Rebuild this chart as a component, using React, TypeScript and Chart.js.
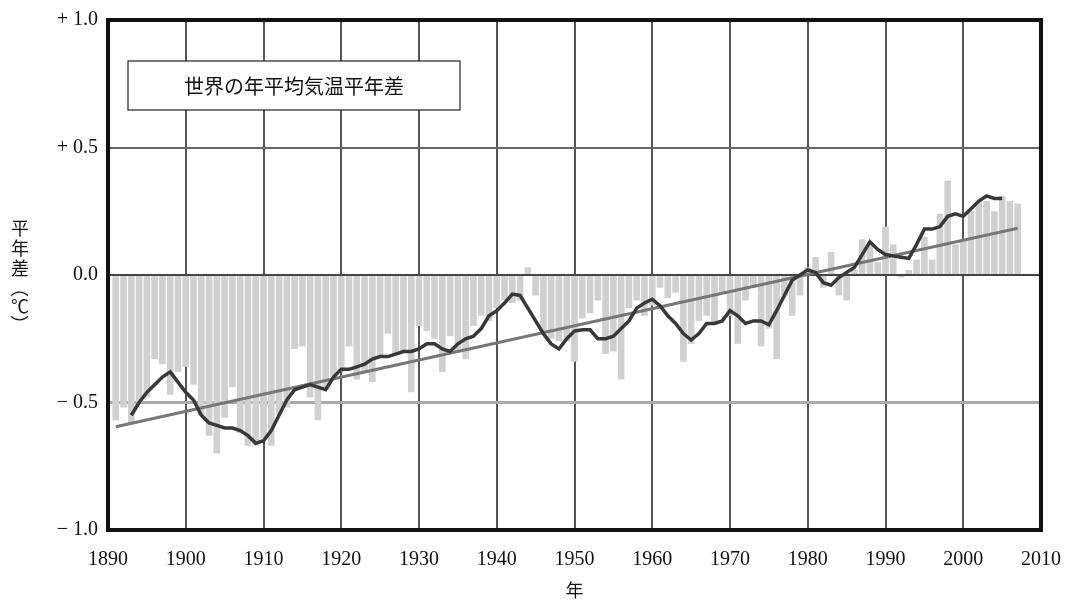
import React, { useEffect, useRef } from "react";
import { Chart, registerables } from "chart.js";

Chart.register(...registerables);

// ---- Data ----
const barYears = [
  1891, 1892, 1893, 1894, 1895, 1896, 1897, 1898, 1899,
  1900, 1901, 1902, 1903, 1904, 1905, 1906, 1907, 1908, 1909,
  1910, 1911, 1912, 1913, 1914, 1915, 1916, 1917, 1918, 1919,
  1920, 1921, 1922, 1923, 1924, 1925, 1926, 1927, 1928, 1929,
  1930, 1931, 1932, 1933, 1934, 1935, 1936, 1937, 1938, 1939,
  1940, 1941, 1942, 1943, 1944, 1945, 1946, 1947, 1948, 1949,
  1950, 1951, 1952, 1953, 1954, 1955, 1956, 1957, 1958, 1959,
  1960, 1961, 1962, 1963, 1964, 1965, 1966, 1967, 1968, 1969,
  1970, 1971, 1972, 1973, 1974, 1975, 1976, 1977, 1978, 1979,
  1980, 1981, 1982, 1983, 1984, 1985, 1986, 1987, 1988, 1989,
  1990, 1991, 1992, 1993, 1994, 1995, 1996, 1997, 1998, 1999,
  2000, 2001, 2002, 2003, 2004, 2005, 2006, 2007,
];

const annualAnomaly = [
  -0.57, -0.52, -0.58, -0.50, -0.48, -0.33, -0.35, -0.47, -0.38,
  -0.36, -0.43, -0.55, -0.63, -0.70, -0.56, -0.44, -0.62, -0.67, -0.67,
  -0.64, -0.67, -0.55, -0.52, -0.29, -0.28, -0.48, -0.57, -0.45, -0.40,
  -0.38, -0.28, -0.41, -0.38, -0.42, -0.32, -0.23, -0.31, -0.30, -0.46,
  -0.20, -0.22, -0.25, -0.38, -0.24, -0.30, -0.33, -0.20, -0.16, -0.18,
  -0.13, -0.10, -0.11, -0.10, 0.03, -0.08, -0.22, -0.25, -0.26, -0.26,
  -0.34, -0.17, -0.15, -0.10, -0.31, -0.30, -0.41, -0.13, -0.10, -0.16,
  -0.12, -0.05, -0.09, -0.07, -0.34, -0.27, -0.18, -0.16, -0.19, -0.07,
  -0.16, -0.27, -0.10, -0.05, -0.28, -0.21, -0.33, -0.08, -0.16, -0.08,
  0.03, 0.07, -0.05, 0.09, -0.08, -0.10, 0.02, 0.14, 0.13, 0.05,
  0.19, 0.12, -0.01, 0.02, 0.06, 0.15, 0.06, 0.24, 0.37, 0.12,
  0.14, 0.25, 0.29, 0.29, 0.25, 0.31, 0.29, 0.28,
];

const meanYears = [
  1893, 1894, 1895, 1896, 1897, 1898, 1899,
  1900, 1901, 1902, 1903, 1904, 1905, 1906, 1907, 1908, 1909,
  1910, 1911, 1912, 1913, 1914, 1915, 1916, 1917, 1918, 1919,
  1920, 1921, 1922, 1923, 1924, 1925, 1926, 1927, 1928, 1929,
  1930, 1931, 1932, 1933, 1934, 1935, 1936, 1937, 1938, 1939,
  1940, 1941, 1942, 1943, 1944, 1945, 1946, 1947, 1948, 1949,
  1950, 1951, 1952, 1953, 1954, 1955, 1956, 1957, 1958, 1959,
  1960, 1961, 1962, 1963, 1964, 1965, 1966, 1967, 1968, 1969,
  1970, 1971, 1972, 1973, 1974, 1975, 1976, 1977, 1978, 1979,
  1980, 1981, 1982, 1983, 1984, 1985, 1986, 1987, 1988, 1989,
  1990, 1991, 1992, 1993, 1994, 1995, 1996, 1997, 1998, 1999,
  2000, 2001, 2002, 2003, 2004, 2005,
];

const runningMean = [
  -0.55, -0.50, -0.46, -0.43, -0.40, -0.38, -0.42,
  -0.46, -0.49, -0.55, -0.58, -0.59, -0.60, -0.60, -0.61, -0.63, -0.66,
  -0.65, -0.61, -0.55, -0.49, -0.45, -0.44, -0.43, -0.44, -0.45, -0.40,
  -0.37, -0.37, -0.36, -0.35, -0.33, -0.32, -0.32, -0.31, -0.30, -0.30,
  -0.29, -0.27, -0.27, -0.29, -0.30, -0.27, -0.25, -0.24, -0.21, -0.16,
  -0.14, -0.11, -0.075, -0.08, -0.13, -0.18, -0.23, -0.27, -0.29, -0.25,
  -0.22, -0.215, -0.215, -0.25, -0.25, -0.24, -0.21, -0.18, -0.13, -0.11,
  -0.095, -0.12, -0.16, -0.19, -0.23, -0.255, -0.23, -0.19, -0.19, -0.18,
  -0.14, -0.16, -0.19, -0.18, -0.18, -0.195, -0.14, -0.08, -0.02, 0.0,
  0.02, 0.01, -0.03, -0.04, -0.01, 0.01, 0.03, 0.08, 0.13, 0.10,
  0.08, 0.075, 0.07, 0.065, 0.12, 0.18, 0.18, 0.19, 0.23, 0.24,
  0.23, 0.26, 0.29, 0.31, 0.30, 0.30,
];

const trendYears = [1891, 2007];
const trendValues = [-0.595, 0.183];

const yTickValues = [-1, -0.5, 0, 0.5, 1];
const yTickLabels = ["\u2212 1.0", "\u2212 0.5", "0.0", "+ 0.5", "+ 1.0"];

const legendText = "世界の年平均気温平年差";
const yTitleChars = ["平", "年", "差"];
const yTitleUnit = ["（", "℃", "）"];
const xTitle = "年";

const SERIF = "'Liberation Serif', 'DejaVu Serif', serif";
const JP = "'Noto Sans CJK JP', sans-serif";

const decorPlugin = {
  id: "decor",
  afterDatasetDraw(chart: any, args: any) {
    if (args.meta.type !== "bar") return;
    const { ctx, chartArea, scales } = chart;
    const y0 = scales.y.getPixelForValue(0);
    ctx.save();
    ctx.strokeStyle = "#444";
    ctx.lineWidth = 2;
    ctx.beginPath();
    ctx.moveTo(chartArea.left, y0);
    ctx.lineTo(chartArea.right, y0);
    ctx.stroke();
    ctx.restore();
  },
  afterDraw(chart: any) {
    const { ctx, chartArea } = chart;
    ctx.save();
    // frame
    ctx.strokeStyle = "#111";
    ctx.lineWidth = 4;
    ctx.strokeRect(
      chartArea.left,
      chartArea.top,
      chartArea.right - chartArea.left,
      chartArea.bottom - chartArea.top
    );
    // legend box
    const bx = 128, by = 61, bw = 332, bh = 49;
    ctx.fillStyle = "#fff";
    ctx.fillRect(bx, by, bw, bh);
    ctx.strokeStyle = "#222";
    ctx.lineWidth = 1.2;
    ctx.strokeRect(bx, by, bw, bh);
    ctx.fillStyle = "#111";
    ctx.font = `20px ${JP}`;
    ctx.textAlign = "center";
    ctx.textBaseline = "middle";
    ctx.fillText(legendText, bx + bw / 2, by + bh / 2 + 1);
    // y title (vertical)
    ctx.font = `18px ${JP}`;
    let yy = 228;
    yTitleChars.forEach((c) => {
      ctx.fillText(c, 20, yy);
      yy += 20;
    });
    yTitleUnit.forEach((c, i) => {
      if (i === 1) {
        ctx.fillText(c, 20, yy);
      } else {
        ctx.save();
        ctx.translate(20, yy);
        ctx.rotate(Math.PI / 2);
        ctx.fillText(c, 0, 0);
        ctx.restore();
      }
      yy += 18;
    });
    // x title
    ctx.font = `18px ${JP}`;
    ctx.fillText(xTitle, (chartArea.left + chartArea.right) / 2, 590);
    ctx.restore();
  },
};

export default function App() {
  const ref = useRef<HTMLCanvasElement | null>(null);

  useEffect(() => {
    if (!ref.current) return;
    const chart = new Chart(ref.current, {
      type: "bar",
      data: {
        datasets: [
          {
            type: "line",
            label: "5年移動平均",
            data: meanYears.map((x, i) => ({ x, y: runningMean[i] })),
            borderColor: "#383838",
            borderWidth: 3.5,
            pointRadius: 0,
            tension: 0,
            order: 1,
          } as any,
          {
            type: "line",
            label: "長期傾向",
            data: trendYears.map((x, i) => ({ x, y: trendValues[i] })),
            borderColor: "#777",
            borderWidth: 3,
            pointRadius: 0,
            order: 2,
          } as any,
          {
            type: "bar",
            label: "年平均気温平年差",
            data: barYears.map((x, i) => ({ x, y: annualAnomaly[i] })),
            backgroundColor: "#d0d0d0",
            borderWidth: 0,
            barPercentage: 0.85,
            categoryPercentage: 1,
            order: 3,
          } as any,
        ],
      },
      options: {
        animation: false,
        responsive: false,
        maintainAspectRatio: false,
        layout: { padding: { left: 0, right: 26, top: 20, bottom: 0 } },
        plugins: {
          legend: { display: false },
          tooltip: { enabled: false },
          title: { display: false },
        },
        scales: {
          x: {
            type: "linear",
            min: 1890,
            max: 2010,
            offset: false,
            afterFit: (s: any) => {
              s.height = 73;
              s.paddingLeft = 0;
              s.paddingRight = 0;
            },
            ticks: {
              stepSize: 10,
              autoSkip: false,
              maxRotation: 0,
              padding: 18,
              color: "#111",
              font: { family: SERIF, size: 20 },
              callback: (v: any) => String(v),
            },
            grid: {
              offset: false,
              color: "#555",
              lineWidth: 2,
              drawTicks: false,
            },
            border: { display: false },
          },
          y: {
            type: "linear",
            min: -1,
            max: 1,
            afterFit: (s: any) => {
              s.width = 108;
              s.paddingTop = 0;
              s.paddingBottom = 0;
            },
            afterBuildTicks: (s: any) => {
              s.ticks = yTickValues.map((v) => ({ value: v }));
            },
            ticks: {
              padding: 10,
              color: "#111",
              font: { family: SERIF, size: 20 },
              callback: (v: any) => {
                const i = yTickValues.indexOf(Number(v));
                return i >= 0 ? yTickLabels[i] : "";
              },
            },
            grid: {
              drawTicks: false,
              color: (c: any) => {
                const v = c.tick ? c.tick.value : 0;
                if (v === 0) return "#444";
                if (v === -0.5) return "#aaa";
                return "#666";
              },
              lineWidth: (c: any) => {
                const v = c.tick ? c.tick.value : 0;
                if (v === -0.5) return 3;
                return 2;
              },
            },
            border: { display: false },
          },
        },
      },
      plugins: [decorPlugin],
    });
    return () => chart.destroy();
  }, []);

  return (
    <div style={{ position: "fixed", left: 0, top: 0, width: 1067, height: 603, background: "#fff" }}>
      <canvas ref={ref} width={1067} height={603} style={{ width: 1067, height: 603, display: "block" }} />
    </div>
  );
}
